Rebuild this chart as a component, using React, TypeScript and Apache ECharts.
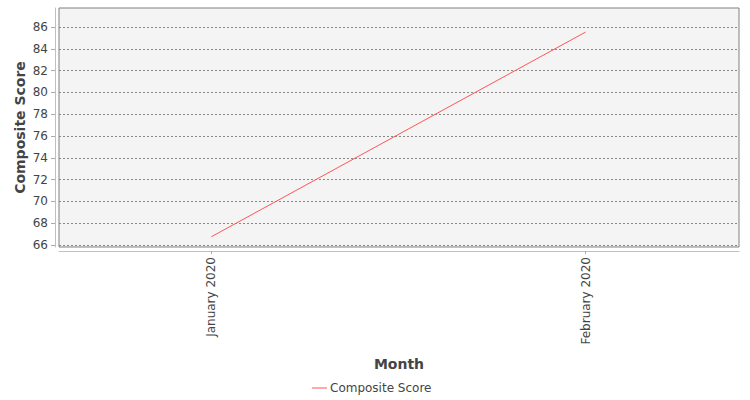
import React, { useEffect, useRef } from "react";
import * as echarts from "echarts";

const months = ["January 2020", "February 2020"];
const compositeScore = [66.76, 85.54];
const yTickValues = [66, 68, 70, 72, 74, 76, 78, 80, 82, 84, 86];
const monthTickValues = [0, 1];

export default function App() {
  const ref = useRef<HTMLDivElement>(null);
  useEffect(() => {
    document.body.style.margin = "0";
    const chart = echarts.init(ref.current!, null, { renderer: "svg" });
    const font = "DejaVu Sans";
    chart.setOption({
      animation: false,
      textStyle: { fontFamily: font },
      grid: {
        left: 59,
        right: 11,
        top: 8,
        bottom: 153,
        show: true,
        backgroundColor: "#f4f4f4",
        borderColor: "#808080",
        borderWidth: 1,
      },
      xAxis: {
        type: "value",
        min: -0.407,
        max: 1.41,
        offset: 4,
        name: "Month",
        nameLocation: "middle",
        nameGap: 106,
        nameMoveOverlap: false,
        nameTextStyle: { fontFamily: font, fontSize: 14, fontWeight: "bold", color: "#444" },
        axisLine: { show: true, onZero: false, lineStyle: { color: "#c0c0c0" } },
        axisTick: { show: true, length: 3, customValues: monthTickValues, lineStyle: { color: "#aaa" } },
        axisLabel: {
          customValues: monthTickValues,
          rotate: 90,
          margin: 6,
          fontSize: 12,
          color: "#444",
          fontFamily: font,
          formatter: (v: number) => months[Math.round(v)] ?? "",
        },
        splitLine: { show: false },
      },
      yAxis: {
        type: "value",
        min: 65.82,
        max: 87.75,
        offset: 4,
        name: "Composite Score",
        nameLocation: "middle",
        nameGap: 28,
        nameMoveOverlap: false,
        nameTextStyle: { fontFamily: font, fontSize: 14, fontWeight: "bold", color: "#444" },
        axisLine: { show: true, onZero: false, lineStyle: { color: "#c0c0c0" } },
        axisTick: { show: true, length: 4, customValues: yTickValues, lineStyle: { color: "#aaa" } },
        axisLabel: {
          customValues: yTickValues,
          margin: 7,
          fontSize: 12,
          color: "#444",
          fontFamily: font,
        },
        splitLine: { show: true, lineStyle: { color: "#888", type: [2, 2], width: 1 } },
      },
      legend: {
        top: 377,
        left: 307,
        icon: "rect",
        itemWidth: 15,
        itemHeight: 1,
        itemGap: 10,
        textStyle: { fontFamily: font, fontSize: 12, color: "#444", padding: [0, 0, 0, -2] },
        data: ["Composite Score"],
      },
      series: [
        {
          name: "Composite Score",
          type: "line",
          symbol: "none",
          data: compositeScore.map((v, i) => [i, v]),
          lineStyle: { color: "#ff5555", width: 1 },
          itemStyle: { color: "#ff5555" },
        },
      ],
    });
    return () => chart.dispose();
  }, []);
  return <div ref={ref} style={{ width: 750, height: 400 }} />;
}
